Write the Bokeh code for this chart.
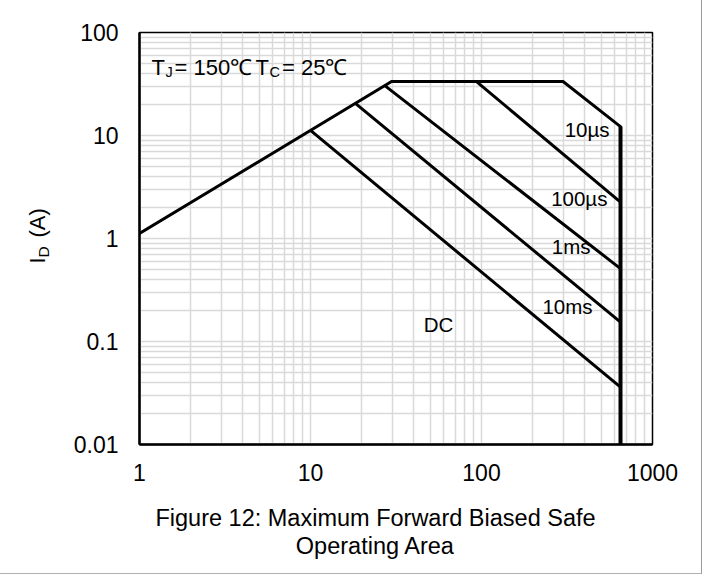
import math
from bokeh.plotting import figure
from bokeh.models import FixedTicker, CustomJSTickFormatter, Label
from bokeh.embed import file_html
from bokeh.resources import INLINE

# ---------------- data ----------------
# Safe operating area envelope: RDS(on) limit -> current limit -> 10us -> VDS max
ENV_V = [1, 29.8, 300, 650, 650]
ENV_I = [1.12, 33.4, 33.4, 12.2, 0.01]
# pulse-width limit lines
US100_V = [93.5, 650]
US100_I = [33.4, 2.25]
MS1_V = [27.2, 650]
MS1_I = [30.5, 0.51]
MS10_V = [18.3, 650]
MS10_I = [20.5, 0.154]
DC_V = [10, 650]
DC_I = [11.2, 0.036]
VDS_MAX_V = [650, 650]
VDS_MAX_I = [12.2, 0.01]

X_TICKS = [1, 10, 100, 1000]
X_TICK_LABELS = ["1", "10", "100", "1000"]
Y_TICKS = [0.01, 0.1, 1, 10, 100]
Y_TICK_LABELS = ["0.01", "0.1", "1", "10", "100"]

CURVE_LABELS = ["10µs", "100µs", "1ms", "10ms", "DC"]
TITLE_LINES = ["Figure 12: Maximum Forward Biased Safe", "Operating Area"]

# ---------------- layout / style ----------------
FONT = "Liberation Sans"
BASE_FIX = 8.5  # empirical baseline correction for Label text (px)
# curve label anchors (data coords) and alignment
CURVE_LABEL_POS = [(561, 9.56, "right"), (545, 2.01, "right"), (434, 0.684, "right"),
                   (446, 0.179, "right"), (56, 0.12, "center")]

p = figure(width=702, height=574, x_axis_type="log", y_axis_type="log",
           x_range=(1, 1000), y_range=(0.01, 100),
           output_backend="svg", toolbar_location=None,
           min_border_left=139, min_border_right=50,
           min_border_top=32, min_border_bottom=130)
p.styles = {"border-right": "1px solid #9a9a9a", "border-bottom": "1px solid #b0b0b0"}

p.background_fill_color = "white"
p.border_fill_color = "white"
p.outline_line_color = "black"
p.outline_line_width = 1.5

fmt_code = """
const i = tvals.findIndex(t => Math.abs(Math.log10(t) - Math.log10(tick)) < 1e-6);
return i >= 0 ? tlabels[i] : '';
"""
p.xaxis.ticker = FixedTicker(ticks=X_TICKS, minor_ticks=[])
p.xaxis.formatter = CustomJSTickFormatter(args=dict(tvals=X_TICKS, tlabels=X_TICK_LABELS), code=fmt_code)
p.yaxis.ticker = FixedTicker(ticks=Y_TICKS, minor_ticks=[])
p.yaxis.formatter = CustomJSTickFormatter(args=dict(tvals=Y_TICKS, tlabels=Y_TICK_LABELS), code=fmt_code)

for ax in (p.xaxis, p.yaxis):
    ax.major_tick_in = 0
    ax.major_tick_out = 0
    ax.minor_tick_in = 0
    ax.minor_tick_out = 0
    ax.axis_line_color = "black"
    ax.axis_line_width = 2.5
    ax.major_label_text_font = FONT
    ax.major_label_text_font_size = "23px"
    ax.major_label_text_color = "black"
p.xaxis.major_label_standoff = 19
p.yaxis.major_label_standoff = 21

grid_x = [m * 10 ** e for e in range(0, 3) for m in range(1, 10)] + [1000]
grid_y = [m * 10.0 ** e for e in range(-2, 2) for m in range(1, 10)] + [100]
p.xgrid.ticker = FixedTicker(ticks=grid_x)
p.ygrid.ticker = FixedTicker(ticks=grid_y)
for g in (p.xgrid, p.ygrid):
    g.grid_line_color = "#d9d9d9"
    g.grid_line_width = 1.5

LW = 3
for xs, ys in ((ENV_V, ENV_I), (US100_V, US100_I), (MS1_V, MS1_I),
               (MS10_V, MS10_I), (DC_V, DC_I)):
    p.line(xs, ys, line_color="black", line_width=LW, line_join="miter")
p.line(VDS_MAX_V, VDS_MAX_I, line_color="black", line_width=4)

for txt, (lx, ly, al) in zip(CURVE_LABELS, CURVE_LABEL_POS):
    p.add_layout(Label(x=lx, y=ly, y_offset=BASE_FIX, text=txt, text_align=al,
                       text_baseline="alphabetic",
                       text_font=FONT, text_font_size="20.5px", text_color="black"))

# T_J = 150℃ T_C = 25℃ annotation (anchored at top-left corner of the frame)
tj_parts = [("T", 12, 0, "22px"), ("J", 26, -5, "14.5px"), ("= 150℃", 35, 0, "22px"),
            ("T", 116, 0, "22px"), ("C", 130, -5, "14.5px"), ("= 25℃", 142.5, 0, "22px")]
for txt, xo, yo, fs in tj_parts:
    p.add_layout(Label(x=1, y=100, x_offset=xo, y_offset=-43 + yo + BASE_FIX, text=txt,
                       text_align="left", text_baseline="alphabetic",
                       text_font=FONT, text_font_size=fs, text_color="black"))

# y axis label I_D (A), rotated -- placed in the left side panel so it is not clipped
ylab_parts = [("I", -94, -25, "22px"), ("D", -88, -18.9, "15.5px"), ("(A)", -94, 1.0, "22px")]
for txt, xo, yo, fs in ylab_parts:
    p.add_layout(Label(x=1, y=1, x_offset=xo - BASE_FIX, y_offset=yo, text=txt,
                       angle=math.pi / 2,
                       text_align="left", text_baseline="alphabetic",
                       text_font=FONT, text_font_size=fs, text_color="black"), "left")

# caption below -- in the bottom side panel
for i, line in enumerate(TITLE_LINES):
    p.add_layout(Label(x=1, y=0.01, x_offset=236, y_offset=-73 - 28 * i, text=line,
                       text_align="center", text_baseline="alphabetic",
                       text_font=FONT, text_font_size="23.5px", text_color="black"), "below")

open("out.html", "w").write(file_html(p, INLINE))
